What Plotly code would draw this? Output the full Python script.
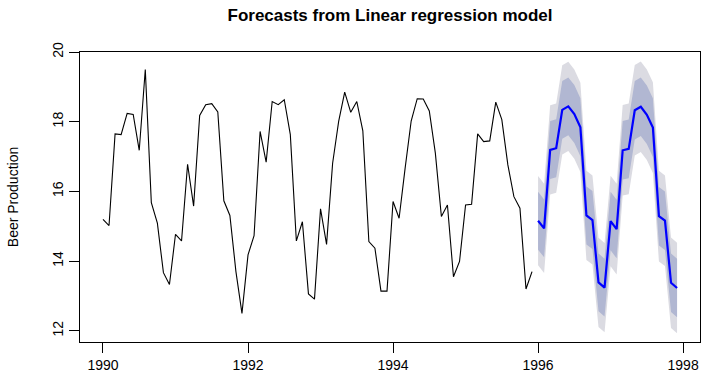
import plotly.graph_objects as go
import pandas as pd

# Monthly history, Jan 1990 - Dec 1995
hist_start = 1990.0
history = [15.20, 15.02, 17.65, 17.63, 18.24, 18.21, 17.18, 19.50, 15.68, 15.09, 13.67, 13.33,
           14.77, 14.58, 16.78, 15.58, 18.18, 18.49, 18.52, 18.28, 15.73, 15.31, 13.70, 12.50,
           14.18, 14.73, 17.72, 16.84, 18.58, 18.49, 18.63, 17.63, 14.58, 15.13, 13.06, 12.91,
           15.50, 14.48, 16.81, 18.01, 18.85, 18.27, 18.58, 17.74, 14.56, 14.37, 13.14, 13.14,
           15.71, 15.23, 16.67, 18.02, 18.66, 18.65, 18.31, 17.10, 15.28, 15.61, 13.55, 13.99,
           15.61, 15.63, 17.65, 17.43, 17.45, 18.56, 18.06, 16.76, 15.85, 15.52, 13.20, 13.70]

# Forecasts, Jan 1996 - Dec 1997
fc_start = 1996.0
forecast = [15.16, 14.94, 17.19, 17.24, 18.34, 18.44, 18.22, 17.84, 15.31, 15.18, 13.39, 13.24,
            15.15, 14.92, 17.18, 17.22, 18.33, 18.43, 18.20, 17.83, 15.29, 15.16, 13.38, 13.23]
lo80 = [14.33, 14.11, 16.36, 16.41, 17.51, 17.61, 17.39, 17.01, 14.48, 14.35, 12.56, 12.41,
        14.31, 14.08, 16.34, 16.38, 17.49, 17.59, 17.36, 16.99, 14.45, 14.32, 12.54, 12.39]
hi80 = [15.99, 15.77, 18.02, 18.07, 19.17, 19.27, 19.05, 18.67, 16.14, 16.01, 14.22, 14.07,
        15.99, 15.76, 18.02, 18.06, 19.17, 19.27, 19.04, 18.67, 16.13, 16.00, 14.22, 14.07]
lo95 = [13.88, 13.66, 15.91, 15.96, 17.06, 17.16, 16.94, 16.56, 14.03, 13.90, 12.11, 11.96,
        13.85, 13.62, 15.88, 15.92, 17.03, 17.13, 16.90, 16.53, 13.99, 13.86, 12.08, 11.93]
hi95 = [16.44, 16.22, 18.47, 18.52, 19.62, 19.72, 19.50, 19.12, 16.59, 16.46, 14.67, 14.52,
        16.45, 16.22, 18.48, 18.52, 19.63, 19.73, 19.50, 19.13, 16.59, 16.46, 14.68, 14.53]

x_ticks = [1990, 1992, 1994, 1996, 1998]
y_ticks = [12, 14, 16, 18, 20]

t_hist = [hist_start + i / 12 for i in range(len(history))]
t_fc = [fc_start + i / 12 for i in range(len(forecast))]

FONT = "Liberation Sans, Arial, Helvetica, sans-serif"
c95 = "#DBDBE2"
c80 = "#B1B7D2"

fig = go.Figure()
fig.add_trace(go.Scatter(x=t_fc, y=hi95, mode="lines", line=dict(width=0), hoverinfo="skip", showlegend=False))
fig.add_trace(go.Scatter(x=t_fc, y=lo95, mode="lines", line=dict(width=0), fill="tonexty",
                         fillcolor=c95, hoverinfo="skip", showlegend=False))
fig.add_trace(go.Scatter(x=t_fc, y=hi80, mode="lines", line=dict(width=0), hoverinfo="skip", showlegend=False))
fig.add_trace(go.Scatter(x=t_fc, y=lo80, mode="lines", line=dict(width=0), fill="tonexty",
                         fillcolor=c80, hoverinfo="skip", showlegend=False))
fig.add_trace(go.Scatter(x=t_hist, y=history, mode="lines", line=dict(color="black", width=1.1),
                         showlegend=False))
fig.add_trace(go.Scatter(x=t_fc, y=forecast, mode="lines", line=dict(color="#0000FF", width=2.2),
                         showlegend=False))

fig.update_layout(
    width=703, height=379,
    margin=dict(l=80, r=3, t=52, b=37),
    plot_bgcolor="white", paper_bgcolor="white",
    font=dict(family=FONT, size=14, color="black"),
    title=dict(text="<b>Forecasts from Linear regression model</b>", x=(80 + 700) / 2 / 703, xanchor="center",
               y=1 - 15 / 379, yanchor="middle", font=dict(size=17, family=FONT, color="black")),
    xaxis=dict(range=[1989.683, 1998.233], tickvals=x_ticks, ticktext=[str(v) for v in x_ticks],
               showgrid=False, zeroline=False, showline=True, mirror=True, linecolor="black", linewidth=1,
               ticks="outside", ticklen=10, tickcolor="black", tickwidth=1,
               tickfont=dict(size=14, family=FONT, color="black")),
    yaxis=dict(range=[11.68, 20.0], tickvals=y_ticks, ticktext=[str(v) for v in y_ticks],
               showgrid=False, zeroline=False, showline=True, mirror=True, linecolor="black", linewidth=1,
               ticks="outside", ticklen=10, tickcolor="black", tickwidth=1, tickangle=-90,
               tickfont=dict(size=14, family=FONT, color="black"),
               title=dict(text="Beer Production", standoff=28, font=dict(size=14, family=FONT, color="black"))),
)

fig.write_html("out.html")
